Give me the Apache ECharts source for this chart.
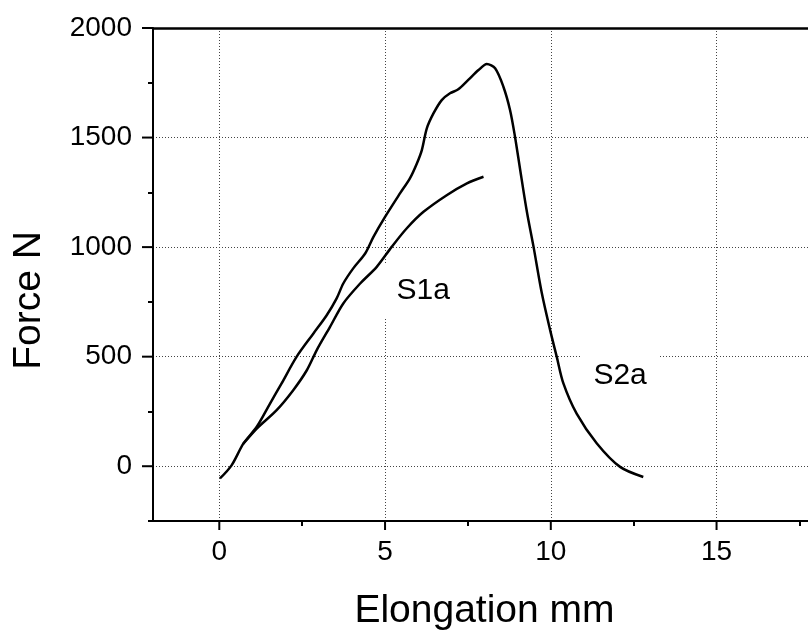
<!DOCTYPE html>
<html>
<head>
<meta charset="utf-8">
<script src="https://cdn.jsdelivr.net/npm/echarts@6/dist/echarts.min.js"></script>
<style>
html,body{margin:0;padding:0;background:#fff;}
#chart{width:808px;height:631px;}
</style>
</head>
<body>
<div id="chart"></div>
<script>
// ---- data ----
const s2aX = [0.02,0.37,0.73,1.13,1.53,1.88,2.33,2.84,3.24,3.54,3.74,4.04,4.40,4.65,5.00,5.45,5.75,5.96,6.11,6.26,6.46,6.71,6.96,7.21,7.51,7.82,8.07,8.32,8.57,8.77,8.92,9.07,9.28,9.48,9.73,9.98,10.18,10.38,10.78,11.39,12.09,12.79];
const s2aY = [-56,4,104,180,286,378,499,606,689,766,834,903,971,1047,1138,1245,1314,1382,1443,1542,1610,1671,1702,1720,1763,1808,1836,1816,1732,1626,1504,1359,1160,1001,789,621,499,378,240,104,-3,-49];
const s1aX = [0.71,1.13,1.73,2.23,2.64,2.94,3.34,3.74,4.25,4.75,5.20,5.65,6.16,6.86,7.47,7.97];
const s1aY = [100,172,256,347,438,530,636,743,834,910,1001,1085,1161,1237,1291,1321];
const xMajorTicks = [0,5,10,15];
const xMinorTicks = [2.5,7.5,12.5,17.5];
const yMajorTicks = [0,500,1000,1500,2000];
const yMinorTicks = [-250,250,750,1250,1750];
const xRange = [-2, 18];
const yRange = [-250, 2000];
const seriesNames = ['S1a','S2a'];
const labelPos = { S1a: [6.15, 803], S2a: [12.09, 415] };

const FONT = 'Liberation Sans, Arial, sans-serif';
const zip = (xs, ys) => xs.map((x, i) => [x, ys[i]]);

const chart = echarts.init(document.getElementById('chart'), null, {renderer: 'canvas'});

const gridLine = {show: true, lineStyle: {color: '#444', width: 1, type: [1, 2]}};

function tickAxis(range, position, values, len) {
  return {
    type: 'value', min: range[0], max: range[1], position: position,
    axisLine: {show: false, onZero: false},
    axisTick: {show: true, inside: false, length: len, customValues: values, lineStyle: {color: '#000', width: 2}},
    axisLabel: {show: false},
    splitLine: {show: false}
  };
}

function annot(name) {
  return {
    symbol: 'rect',
    symbolSize: 1,
    silent: true,
    itemStyle: {color: 'rgba(0,0,0,0)'},
    data: [{
      coord: labelPos[name],
      label: {
        show: true, position: 'inside', formatter: name,
        fontFamily: FONT, fontSize: 30, color: '#000',
        backgroundColor: '#fff', padding: [12, 12]
      }
    }]
  };
}

chart.setOption({
  animation: false,
  backgroundColor: '#fff',
  grid: {left: 153, right: -8, top: 28, bottom: 110, containLabel: false, outerBoundsMode: 'none'},
  xAxis: [{
    type: 'value', min: xRange[0], max: xRange[1], position: 'bottom',
    name: 'Elongation mm', nameLocation: 'middle', nameGap: 71,
    nameTextStyle: {fontFamily: FONT, fontSize: 39, color: '#000'},
    axisLine: {show: true, onZero: false, lineStyle: {color: '#000', width: 2}},
    axisTick: {show: false},
    axisLabel: {show: true, customValues: xMajorTicks, formatter: v => String(v), margin: 17, fontFamily: FONT, fontSize: 28, color: '#000'},
    splitLine: gridLine
  },
  tickAxis(xRange, 'bottom', xMinorTicks, 5),
  {
    type: 'value', min: xRange[0], max: xRange[1], position: 'top',
    axisLine: {show: true, onZero: false, lineStyle: {color: '#000', width: 2.5}},
    axisTick: {show: false}, axisLabel: {show: false}, splitLine: {show: false}
  }],
  yAxis: [{
    type: 'value', min: yRange[0], max: yRange[1], position: 'left',
    name: 'Force N', nameLocation: 'middle', nameGap: 104,
    nameTextStyle: {fontFamily: FONT, fontSize: 39, color: '#000', padding: [0, 52, 0, 0]},
    axisLine: {show: true, onZero: false, lineStyle: {color: '#000', width: 2}},
    axisTick: {show: false},
    axisLabel: {show: true, customValues: yMajorTicks, formatter: v => String(v), margin: 21, fontFamily: FONT, fontSize: 28, color: '#000'},
    splitLine: gridLine
  },
  tickAxis(yRange, 'left', yMinorTicks, 5)
  ],
  series: [{
    name: seriesNames[0], type: 'line', xAxisIndex: 0, yAxisIndex: 0,
    data: zip(s1aX, s1aY), smooth: 0.3, showSymbol: false, symbol: 'none',
    lineStyle: {color: '#000', width: 2.5}, z: 3,
    markPoint: annot('S1a')
  }, {
    name: seriesNames[1], type: 'line', xAxisIndex: 0, yAxisIndex: 0,
    data: zip(s2aX, s2aY), smooth: 0.3, showSymbol: false, symbol: 'none',
    lineStyle: {color: '#000', width: 2.5}, z: 3,
    markPoint: annot('S2a')
  }]
});

// major tick marks, placed through the chart's own axis scales
const tickEls = [];
xMajorTicks.forEach(v => {
  const p = chart.convertToPixel({xAxisIndex: 0, yAxisIndex: 0}, [v, yRange[0]]);
  tickEls.push({type: 'line', z: 100, silent: true,
    shape: {x1: p[0], y1: p[1], x2: p[0], y2: p[1] + 9},
    style: {stroke: '#000', lineWidth: 2}});
});
yMajorTicks.forEach(v => {
  const p = chart.convertToPixel({xAxisIndex: 0, yAxisIndex: 0}, [xRange[0], v]);
  tickEls.push({type: 'line', z: 100, silent: true,
    shape: {x1: p[0] - 11, y1: p[1], x2: p[0], y2: p[1]},
    style: {stroke: '#000', lineWidth: 2}});
});
chart.setOption({graphic: {elements: tickEls}});
</script>
</body>
</html>
